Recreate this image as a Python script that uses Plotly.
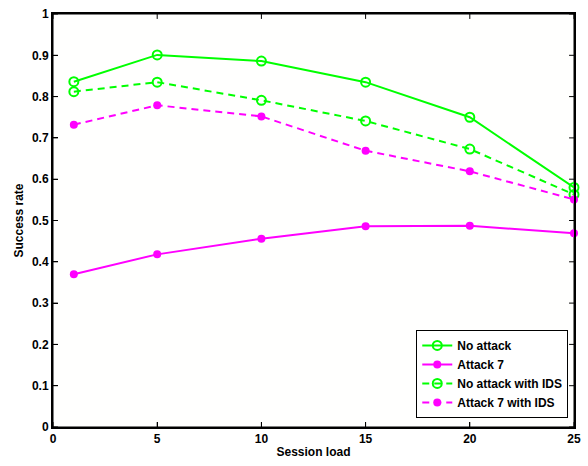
import plotly.graph_objects as go

session_load = [1, 5, 10, 15, 20, 25]
no_attack = [0.836, 0.901, 0.886, 0.835, 0.750, 0.580]
attack7 = [0.370, 0.418, 0.456, 0.486, 0.487, 0.469]
no_attack_ids = [0.812, 0.835, 0.791, 0.741, 0.673, 0.563]
attack7_ids = [0.732, 0.779, 0.752, 0.669, 0.619, 0.551]

x_ticks = [0, 5, 10, 15, 20, 25]
y_ticks = [0, 0.1, 0.2, 0.3, 0.4, 0.5, 0.6, 0.7, 0.8, 0.9, 1]
y_tick_labels = ["0", "0.1", "0.2", "0.3", "0.4", "0.5", "0.6", "0.7", "0.8", "0.9", "1"]
series_names = ["No attack", "Attack 7", "No attack with IDS", "Attack 7 with IDS"]

X_RANGE = [0, 25]
Y_RANGE = [0, 1]

GREEN = "#00ff00"
MAGENTA = "#ff00ff"
FONT = "Arial, Liberation Sans, sans-serif"

W, H = 588, 466
M = dict(l=53, r=7, t=10, b=39)
plot_w = W - M["l"] - M["r"]
plot_h = H - M["t"] - M["b"]
TICK_PX = 5


def b(t):
    return "<b>" + t + "</b>"


# axis frame and inside ticks (derived from axis ranges and tick arrays)
x_len = TICK_PX * (Y_RANGE[1] - Y_RANGE[0]) / plot_h
y_len = TICK_PX * (X_RANGE[1] - X_RANGE[0]) / plot_w
fx = [X_RANGE[0], X_RANGE[1], X_RANGE[1], X_RANGE[0], X_RANGE[0], None]
fy = [Y_RANGE[0], Y_RANGE[0], Y_RANGE[1], Y_RANGE[1], Y_RANGE[0], None]
for v in x_ticks:
    fx += [v, v, None, v, v, None]
    fy += [Y_RANGE[0], Y_RANGE[0] + x_len, None, Y_RANGE[1], Y_RANGE[1] - x_len, None]
for v in y_ticks:
    fx += [X_RANGE[0], X_RANGE[0] + y_len, None, X_RANGE[1], X_RANGE[1] - y_len, None]
    fy += [v, v, None, v, v, None]

fig = go.Figure()
fig.add_trace(go.Scatter(x=fx, y=fy, mode="lines", line=dict(color="black", width=1),
                         showlegend=False, hoverinfo="skip", cliponaxis=False, connectgaps=False))
fig.add_trace(go.Scatter(x=session_load, y=no_attack, name=b(series_names[0]), mode="lines+markers",
                         line=dict(color=GREEN, width=2), cliponaxis=False,
                         marker=dict(symbol="circle-open", size=9, color=GREEN, line=dict(width=2, color=GREEN))))
fig.add_trace(go.Scatter(x=session_load, y=attack7, name=b(series_names[1]), mode="lines+markers",
                         line=dict(color=MAGENTA, width=2), cliponaxis=False,
                         marker=dict(symbol="circle", size=8, color=MAGENTA)))
fig.add_trace(go.Scatter(x=session_load, y=no_attack_ids, name=b(series_names[2]), mode="lines+markers",
                         line=dict(color=GREEN, width=2, dash="7px,5px"), cliponaxis=False,
                         marker=dict(symbol="circle-open", size=9, color=GREEN, line=dict(width=2, color=GREEN))))
fig.add_trace(go.Scatter(x=session_load, y=attack7_ids, name=b(series_names[3]), mode="lines+markers",
                         line=dict(color=MAGENTA, width=2, dash="7px,5px"), cliponaxis=False,
                         marker=dict(symbol="circle", size=8, color=MAGENTA)))

tickfont = dict(family=FONT, size=12, color="black")

fig.update_xaxes(range=X_RANGE, tickvals=x_ticks, ticktext=[b(str(v)) for v in x_ticks],
                 showline=True, linecolor="black", linewidth=2, mirror=True,
                 ticks="inside", ticklen=TICK_PX, tickcolor="black", tickwidth=1,
                 showgrid=False, zeroline=False, tickfont=tickfont,
                 title=dict(text=b("Session load"), standoff=2,
                            font=dict(family=FONT, size=12, color="black")))
fig.update_yaxes(range=Y_RANGE, tickvals=y_ticks, ticktext=[b(t) for t in y_tick_labels],
                 showline=True, linecolor="black", linewidth=2, mirror=True,
                 ticks="inside", ticklen=TICK_PX, tickcolor="black", tickwidth=1,
                 showgrid=False, zeroline=False, tickfont=tickfont,
                 title=dict(text=b("Success rate"), standoff=6,
                            font=dict(family=FONT, size=12, color="black")))

fig.update_layout(
    width=W, height=H,
    margin=M,
    paper_bgcolor="white", plot_bgcolor="#fffffe",
    font=dict(family=FONT, size=12, color="black"),
    legend=dict(x=0.989, y=0.022, xanchor="right", yanchor="bottom",
                bgcolor="white", bordercolor="black", borderwidth=1,
                font=dict(family=FONT, size=12, color="black"),
                tracegroupgap=0, itemwidth=30),
    showlegend=True,
)

fig.write_html("out.html", config={"displayModeBar": False},
               post_script="document.body.style.margin='0';document.body.style.padding='0';")
